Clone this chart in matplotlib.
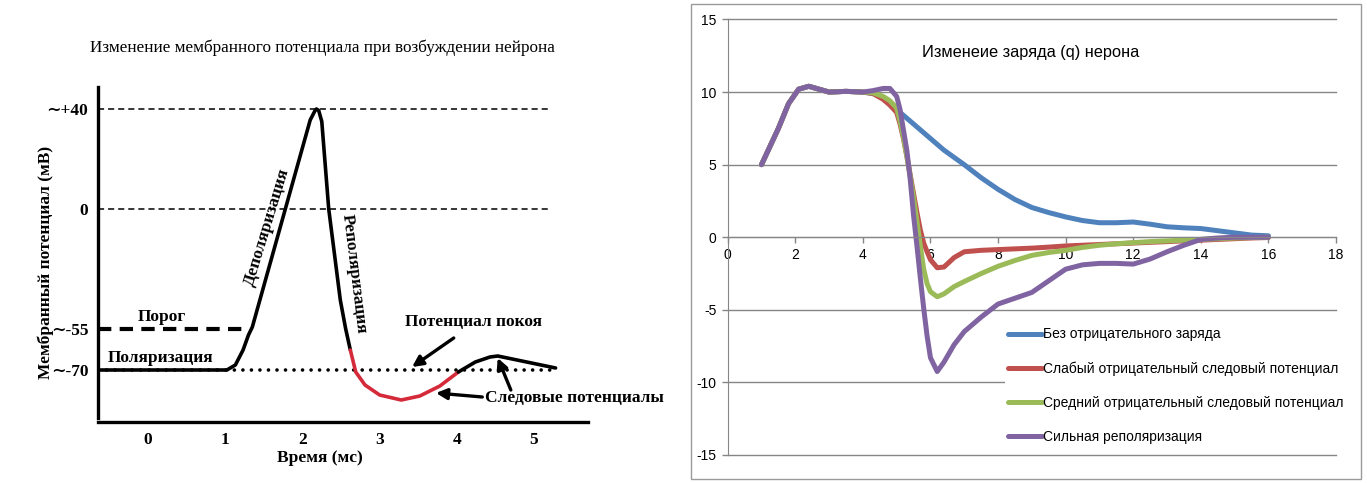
import matplotlib
matplotlib.use('Agg')
import matplotlib.pyplot as plt
from matplotlib.patches import Rectangle

plt.rcParams['axes.unicode_minus'] = False

# ---- left panel: schematic action potential (y in schematic units) ----
ap_t = [-0.65, 1.02, 1.13, 1.23, 1.30, 1.35, 2.10, 2.16, 2.18, 2.21, 2.25, 2.34, 2.49, 2.56, 2.62]
ap_v = [-64.4, -64.4, -62.4, -56.4, -50.4, -47.2, 35.6, 39.2, 40.0, 39.4, 35.0, 0.0, -36.4, -48.0, -56.4]
trace_t = [2.62, 2.69, 2.81, 3.0, 3.28, 3.52, 3.78, 4.02]
trace_v = [-56.4, -65.2, -70.4, -74.4, -76.4, -74.8, -70.8, -65.2]
tail_t = [4.02, 4.24, 4.43, 4.53, 5.28]
tail_v = [-65.2, -61.2, -59.2, -58.8, -63.6]
level_pos = [40, 0, -48, -64.4]
level_labels = ['∼+40', '0', '∼-55', '∼-70']
time_ticks = [0, 1, 2, 3, 4, 5]

# ---- right panel: charge of neuron ----
qx = [1, 1.5, 1.8, 2.1, 2.4, 2.7, 3, 3.5, 4, 4.3, 4.6, 4.8, 5, 5.1, 5.2, 5.3, 5.4, 5.5,
      5.6, 5.7, 5.8, 5.9, 6, 6.2, 6.4, 6.7, 7, 7.5, 8, 8.5, 9, 9.5, 10, 10.5, 11, 11.5,
      12, 12.5, 13, 13.5, 14, 14.5, 15, 15.5, 16]
start = [5.0, 7.5, 9.2, 10.2, 10.4, 10.2, 10.0, 10.05, 10.0]
q_none = start + [9.9, 9.6, 9.3, 8.8, 8.6, 8.4, 8.2, 8.0, 7.8, 7.6, 7.4, 7.2, 7.0, 6.8, 6.4,
                  6.0, 5.5, 5.0, 4.1, 3.3, 2.6, 2.05, 1.7, 1.4, 1.15, 1.0, 1.0, 1.05, 0.9,
                  0.72, 0.65, 0.6, 0.45, 0.3, 0.15, 0.1]
q_weak = start + [9.9, 9.5, 9.1, 8.6, 7.8, 6.8, 5.6, 4.3, 3.0, 1.7, 0.5, -0.4, -1.0, -1.55,
                  -2.1, -2.05, -1.4, -1.0, -0.9, -0.85, -0.8, -0.75, -0.68, -0.6, -0.55,
                  -0.5, -0.45, -0.4, -0.35, -0.3, -0.25, -0.2, -0.15, -0.1, -0.05, -0.02]
q_mid = start + [9.95, 9.7, 9.4, 8.9, 8.0, 6.9, 5.6, 4.2, 2.7, 1.1, -0.6, -2.2, -3.2, -3.75,
                 -4.1, -3.9, -3.4, -3.05, -2.5, -2.0, -1.6, -1.25, -1.05, -0.9, -0.7, -0.55,
                 -0.45, -0.37, -0.3, -0.25, -0.2, -0.15, -0.1, -0.05, -0.02, 0.0]
q_strong = start + [10.1, 10.25, 10.25, 9.7, 8.8, 7.4, 6.0, 4.0, 1.5, -0.6, -2.8, -4.9, -6.8,
                    -8.3, -9.25, -8.6, -7.4, -6.5, -5.5, -4.6, -4.2, -3.8, -3.0, -2.2, -1.9,
                    -1.8, -1.8, -1.85, -1.5, -1.0, -0.55, -0.15, -0.05, 0.0, 0.0, 0.0]
series_names = ['Без отрицательного заряда', 'Слабый отрицательный следовый потенциал',
                'Средний отрицательный следовый потенциал', 'Сильная реполяризация']
series_colors = ['#4F81BD', '#C0504D', '#9BBB59', '#8064A2']

W, H = 1367, 483
fig = plt.figure(figsize=(W/100, H/100), dpi=100)
serif = ['Liberation Serif', 'DejaVu Serif']

# ================= left =================
ax1 = fig.add_axes([98/W, 1-422/H, 490/W, 335/H])
ax1.set_xlim(-0.65, 5.70)
ax1.set_ylim(-85.2, 48.8)
for s in ['top', 'right']:
    ax1.spines[s].set_visible(False)
ax1.spines['left'].set_linewidth(2.4)
ax1.spines['bottom'].set_linewidth(2.4)
ax1.spines['left'].set_bounds(-83.6, 48.8)
ax1.set_yticks(level_pos, level_labels)
ax1.set_xticks(time_ticks, [str(t) for t in time_ticks])
ax1.tick_params(length=0, labelsize=12.5)
ax1.tick_params(axis='y', pad=7)
ax1.tick_params(axis='x', pad=7)
for lab in ax1.get_xticklabels() + ax1.get_yticklabels():
    lab.set_fontfamily(serif)
    lab.set_fontweight('bold')

ax1.plot([-0.65, 5.18], [40, 40], color='k', lw=1.1, dashes=(4, 2.6))
ax1.plot([-0.65, 5.18], [0, 0], color='k', lw=1.1, dashes=(4, 2.6))
ax1.plot([-0.65, 1.30], [-48, -48], color='k', lw=3.0, dashes=(3.2, 2.0))
ax1.plot([-0.65, 5.27], [-64.4, -64.4], color='k', lw=2.6, dashes=(0.01, 2.35),
         dash_capstyle='round')
ax1.plot(ap_t, ap_v, color='k', lw=2.6, solid_joinstyle='round', solid_capstyle='round')
ax1.plot(trace_t, trace_v, color='#D42A3A', lw=2.6, solid_joinstyle='round', solid_capstyle='round')
ax1.plot(tail_t, tail_v, color='k', lw=2.6, solid_joinstyle='round', solid_capstyle='round')

bold = dict(family=serif, weight='bold', size=12.5)
ax1.text(0.18, -43.2, 'Порог', ha='center', va='center', **bold)
ax1.text(0.16, -59.6, 'Поляризация', ha='center', va='center', **bold)
ax1.text(1.54, -7.2, 'Деполяризация', ha='center', va='center', rotation=73, **bold)
ax1.text(2.67, -26, 'Реполяризация', ha='center', va='center', rotation=-83, **bold)
ax1.text(4.22, -45.2, 'Потенциал покоя', ha='center', va='center', **bold)
ax1.text(4.37, -75.6, 'Следовые потенциалы', ha='left', va='center', **bold)
arr = dict(arrowstyle='-|>', color='k', lw=2.4, mutation_scale=16, shrinkA=0, shrinkB=0)
ax1.annotate('', xy=(3.42, -63.2), xytext=(3.96, -51.6), arrowprops=arr)
ax1.annotate('', xy=(3.73, -73.6), xytext=(4.33, -75.2), arrowprops=arr)
ax1.annotate('', xy=(4.53, -59.6), xytext=(4.70, -72.4), arrowprops=arr)

fig.text(322/W, 1-48/H, 'Изменение мембранного потенциала при возбуждении нейрона',
         ha='center', va='center', family=serif, size=12.3)
fig.text(46/W, 1-262/H, 'Мембранный потенциал (мВ)', ha='center', va='center',
         rotation=90, **bold)
fig.text(320/W, 1-458/H, 'Время (мс)', ha='center', va='center', **bold)

# ================= right =================
sans = 'Liberation Sans'
grey = '#868686'
fig.patches.append(Rectangle((691/W, 1-479/H), 670/W, 475.5/H, transform=fig.transFigure,
                             fill=False, edgecolor='#9a9a9a', lw=1.0))
ax2 = fig.add_axes([727.7/W, 1-455/H, 608.3/W, 435.5/H])
ax2.set_xlim(0, 18)
ax2.set_ylim(-15, 15)
ax2.set_yticks(range(-15, 16, 5))
ax2.set_xticks(range(0, 19, 2))
ax2.yaxis.grid(True, color=grey, lw=1.0)
for gl in ax2.get_ygridlines():
    gl.set_clip_on(False)
ax2.set_axisbelow(True)
for s in ['top', 'right']:
    ax2.spines[s].set_visible(False)
ax2.spines['bottom'].set_position(('data', 0))
ax2.spines['bottom'].set_color(grey)
ax2.spines['left'].set_color(grey)
ax2.tick_params(color=grey, length=4.5, width=1.0, direction='out', labelsize=10)
ax2.tick_params(axis='x', pad=3)
for lab in ax2.get_xticklabels() + ax2.get_yticklabels():
    lab.set_fontfamily(sans)

for ys, name, col in zip([q_none, q_weak, q_mid, q_strong], series_names, series_colors):
    ax2.plot(qx, ys, color=col, lw=3.6, label=name, solid_joinstyle='round',
             solid_capstyle='round')

leg = ax2.legend(loc='upper left', bbox_to_anchor=(1005/W, 1-324/H), bbox_transform=fig.transFigure,
                 frameon=True, fancybox=False, edgecolor='none', facecolor='white', framealpha=1,
                 borderpad=0.25, borderaxespad=0, handlelength=2.4, handletextpad=0.1,
                 labelspacing=1.45, prop=dict(family=sans, size=10))

fig.text(1031/W, 1-52/H, 'Изменеие заряда (q) нерона', ha='center', va='center',
         family=sans, size=11.8)

fig.savefig('out.png', dpi=100)
